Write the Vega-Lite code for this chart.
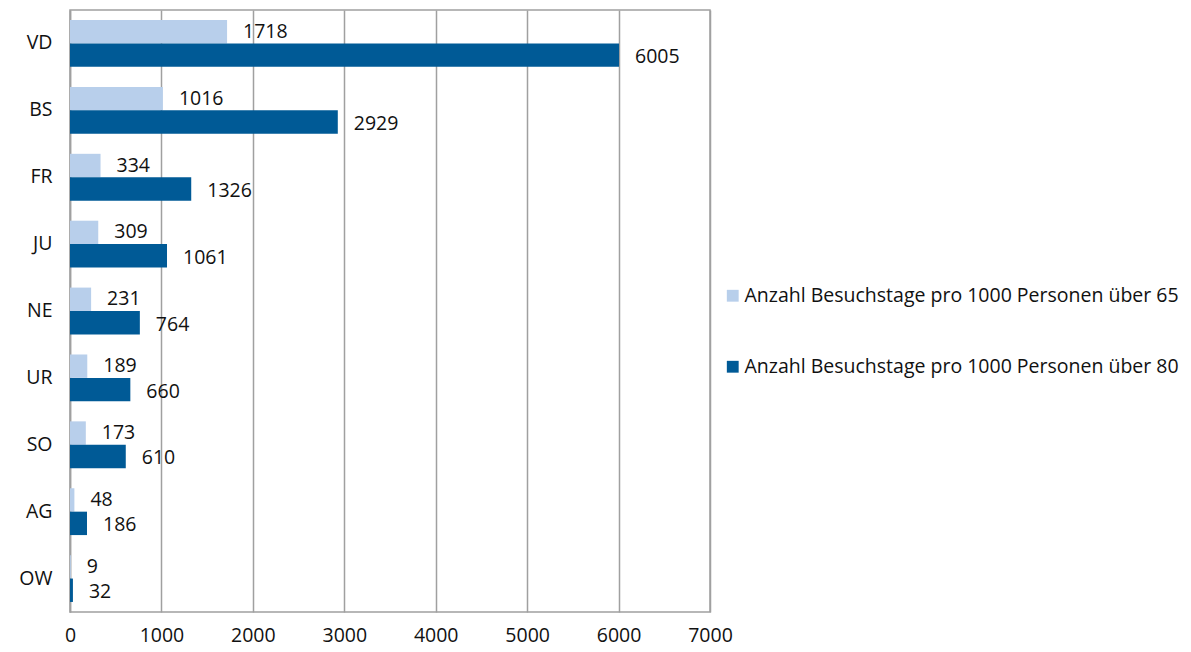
{
  "$schema": "https://vega.github.io/schema/vega-lite/v6.json",
  "width": 640,
  "height": 602,
  "autosize": "none",
  "padding": {"left": 70, "top": 10, "right": 481, "bottom": 40},
  "background": "white",
  "config": {
    "font": "Open Sans",
    "view": {"stroke": "#a0a0a0", "strokeWidth": 1.5},
    "axis": {"labelFont": "Open Sans", "labelFontSize": 19.5, "labelColor": "#111"}
  },
  "data": {"values": [
    {"kanton": "VD", "serie": "Anzahl Besuchstage pro 1000 Personen über 65", "wert": 1718},
    {"kanton": "VD", "serie": "Anzahl Besuchstage pro 1000 Personen über 80", "wert": 6005},
    {"kanton": "BS", "serie": "Anzahl Besuchstage pro 1000 Personen über 65", "wert": 1016},
    {"kanton": "BS", "serie": "Anzahl Besuchstage pro 1000 Personen über 80", "wert": 2929},
    {"kanton": "FR", "serie": "Anzahl Besuchstage pro 1000 Personen über 65", "wert": 334},
    {"kanton": "FR", "serie": "Anzahl Besuchstage pro 1000 Personen über 80", "wert": 1326},
    {"kanton": "JU", "serie": "Anzahl Besuchstage pro 1000 Personen über 65", "wert": 309},
    {"kanton": "JU", "serie": "Anzahl Besuchstage pro 1000 Personen über 80", "wert": 1061},
    {"kanton": "NE", "serie": "Anzahl Besuchstage pro 1000 Personen über 65", "wert": 231},
    {"kanton": "NE", "serie": "Anzahl Besuchstage pro 1000 Personen über 80", "wert": 764},
    {"kanton": "UR", "serie": "Anzahl Besuchstage pro 1000 Personen über 65", "wert": 189},
    {"kanton": "UR", "serie": "Anzahl Besuchstage pro 1000 Personen über 80", "wert": 660},
    {"kanton": "SO", "serie": "Anzahl Besuchstage pro 1000 Personen über 65", "wert": 173},
    {"kanton": "SO", "serie": "Anzahl Besuchstage pro 1000 Personen über 80", "wert": 610},
    {"kanton": "AG", "serie": "Anzahl Besuchstage pro 1000 Personen über 65", "wert": 48},
    {"kanton": "AG", "serie": "Anzahl Besuchstage pro 1000 Personen über 80", "wert": 186},
    {"kanton": "OW", "serie": "Anzahl Besuchstage pro 1000 Personen über 65", "wert": 9},
    {"kanton": "OW", "serie": "Anzahl Besuchstage pro 1000 Personen über 80", "wert": 32}
  ]},
  "encoding": {
    "y": {
      "field": "kanton", "type": "nominal", "sort": null, "title": null,
      "scale": {"paddingInner": 0.3, "paddingOuter": 0.15},
      "axis": {"ticks": false, "labelPadding": 18, "domainColor": "#a0a0a0", "domainWidth": 1.5}
    },
    "yOffset": {"field": "serie", "type": "nominal", "sort": null},
    "x": {
      "field": "wert", "type": "quantitative", "title": null,
      "scale": {"domain": [0, 7000], "nice": false},
      "axis": {"values": [0,1000,2000,3000,4000,5000,6000,7000], "format": "d", "ticks": false, "domain": false, "labelPadding": 14, "gridColor": "#a0a0a0", "gridWidth": 1.5, "labelFlush": false}
    }
  },
  "layer": [
    {
      "mark": {"type": "bar"},
      "encoding": {
        "color": {
          "field": "serie", "type": "nominal", "sort": null, "title": null,
          "scale": {"range": ["#b8cfeb", "#005a96"]},
          "legend": {
            "orient": "none", "legendX": 653, "legendY": 276,
            "symbolType": "square", "symbolSize": 140, "symbolStrokeWidth": 0,
            "labelFontSize": 19.5, "labelFont": "Open Sans", "labelColor": "#111",
            "rowPadding": 50, "labelOffset": 2, "labelLimit": 500
          }
        }
      }
    },
    {
      "transform": [{"filter": "datum.serie === 'Anzahl Besuchstage pro 1000 Personen über 65'"}],
      "mark": {"type": "text", "align": "left", "baseline": "middle", "dx": 16, "dy": 0, "fontSize": 19.5, "font": "Open Sans", "color": "#111"},
      "encoding": {"text": {"field": "wert", "type": "quantitative", "format": "d"}}
    },
    {
      "transform": [{"filter": "datum.serie === 'Anzahl Besuchstage pro 1000 Personen über 80'"}],
      "mark": {"type": "text", "align": "left", "baseline": "middle", "dx": 16, "dy": 2, "fontSize": 19.5, "font": "Open Sans", "color": "#111"},
      "encoding": {"text": {"field": "wert", "type": "quantitative", "format": "d"}}
    }
  ]
}
